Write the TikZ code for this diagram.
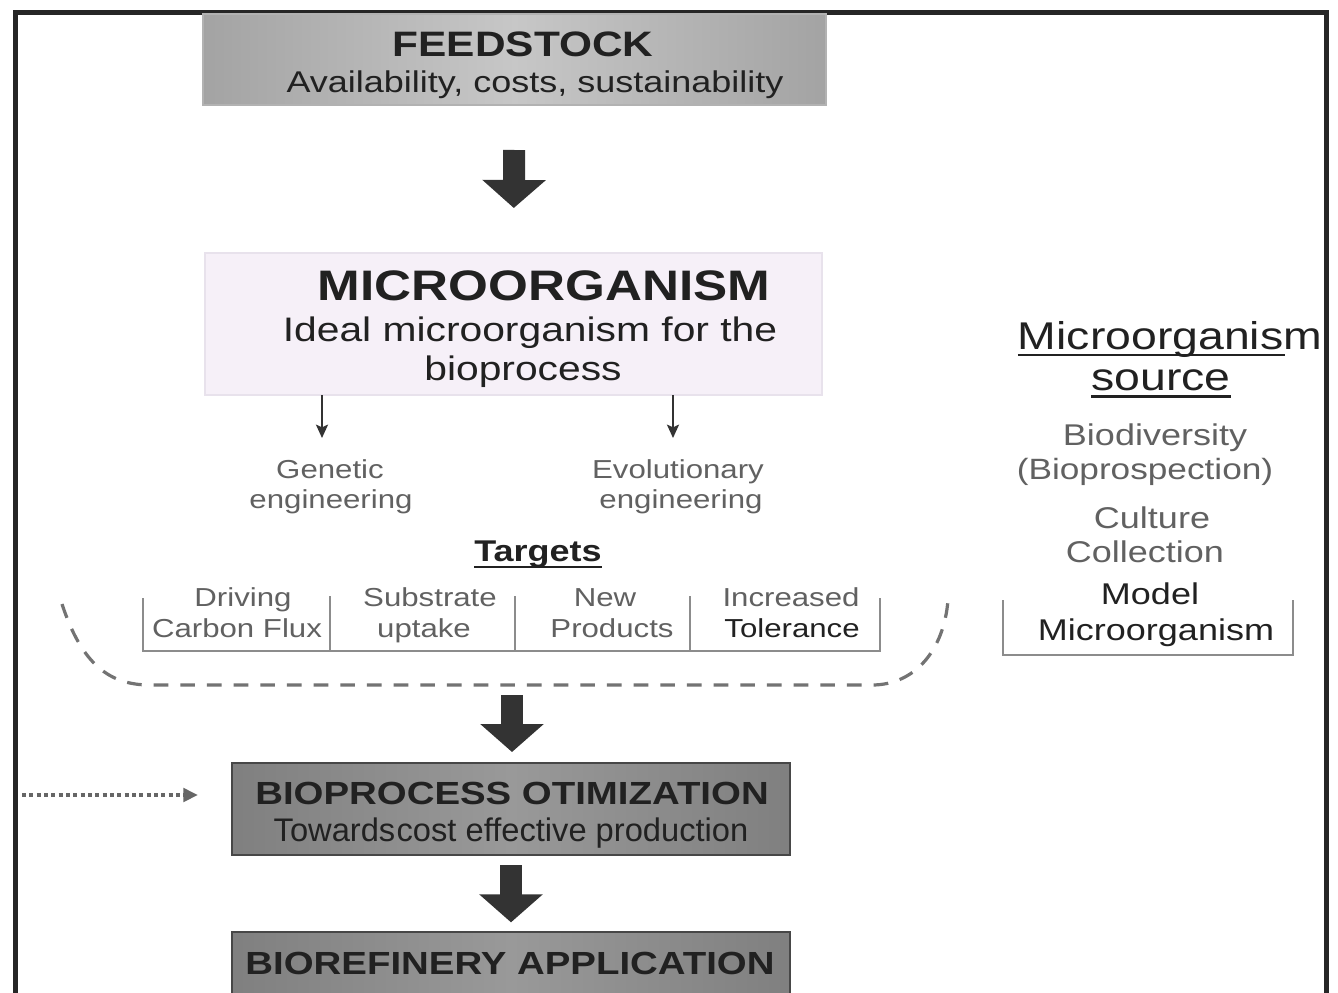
\documentclass[tikz,border=0pt]{standalone}
\usepackage{fontspec}
\setmainfont{Liberation Sans}
\newfontfamily\hv[FakeStretch=1.2]{Liberation Sans}
\newfontfamily\hvn{Liberation Sans}
\usetikzlibrary{arrows.meta,calc}
\definecolor{ink}{gray}{0.13}
\definecolor{light}{gray}{0.38}
\definecolor{lav}{RGB}{246,240,248}
\definecolor{lavline}{RGB}{232,226,236}
\newcommand{\fs}[1]{\fontsize{#1}{#1}\selectfont}
\begin{document}
\begin{tikzpicture}[x=0.75pt,y=-0.75pt,
  every node/.style={inner sep=0pt, outer sep=0pt},
  txt/.style={anchor=base, font=\hv, text=ink},
  lt/.style={anchor=base, font=\hv, text=light},
  feedbox/.style={rectangle, draw=black!30, line width=1pt, left color=black!36, right color=black!36, middle color=black!22},
  procbox/.style={rectangle, draw=black!72, line width=1.6pt, left color=black!50, right color=black!50, middle color=black!40},
  microbox/.style={rectangle, draw=lavline, line width=1pt, fill=lav},
  bigarrow/.style={line width=16.5pt, draw=black!80, -{Triangle[width=46.5pt,length=21pt]}},
  smallarr/.style={line width=1.6pt, draw=black!80, -{Stealth[length=10pt,width=9pt,inset=2pt]}},
  brk/.style={line width=1.6pt, draw=black!45},
  dashcurve/.style={line width=2.4pt, draw=black!55, dash pattern=on 11pt off 9pt},
  dotarr/.style={line width=3pt, draw=black!60, dash pattern=on 3pt off 2.5pt, -{Triangle[length=11pt,width=10pt]}},
  uline/.style={line width=2pt, draw=ink}
]
\useasboundingbox (0,0) rectangle (1338,992);
\clip (0,0) rectangle (1338,992);
\fill[white] (0,0) rectangle (1338,992);
% frame
\draw[line width=3.75pt, draw=black!85] (15,1000) -- (15,12) -- (1326,12) -- (1326,1000);

% boxes
\node[feedbox, minimum width=467.25pt, minimum height=68.25pt] (feed) at (514.5,59.5) {};
\node[microbox, minimum width=462.75pt, minimum height=106.5pt] (micro) at (513.5,324) {};
\node[procbox, minimum width=418.5pt, minimum height=69pt] (bio) at (511,809) {};
\node[procbox, minimum width=418.5pt, minimum height=52pt] (refin) at (511,967) {};

% box texts
\node[txt, font=\hv\bfseries\fs{26.5}] (feedt) at (523,56) {FEEDSTOCK};
\node[txt, font=\hv\fs{22.5}] (feeds) at (535,92) {Availability, costs, sustainability};
\node[txt, font=\hv\bfseries\fs{32}] (microt) at (544,300) {MICROORGANISM};
\node[txt, font=\hv\fs{25.5}] (micros1) at (530,341) {Ideal microorganism for the};
\node[txt, font=\hv\fs{25.5}] (micros2) at (523,380) {bioprocess};
\node[txt, font=\hv\bfseries\fs{24}] (biot) at (512,804) {BIOPROCESS OTIMIZATION};
\node[txt, font=\hvn\fs{24.5}] (bios) at (511,841) {Towards\hspace{1pt}cost effective production};
\node[txt, font=\hv\bfseries\fs{24}] (refint) at (510,974) {BIOREFINERY APPLICATION};

% engineering routes
\coordinate (ga) at (322,438);
\coordinate (ea) at (673,438);
\draw[smallarr] (micro.south -| ga) -- (ga);
\draw[smallarr] (micro.south -| ea) -- (ea);
\node[lt, font=\hv\fs{19.5}] (gen1) at (330,478) {Genetic};
\node[lt, font=\hv\fs{19.5}] (gen2) at (331,508) {engineering};
\node[lt, font=\hv\fs{19.5}] (evo1) at (678,478) {Evolutionary};
\node[lt, font=\hv\fs{19.5}] (evo2) at (681,508) {engineering};

% targets
\node[txt, font=\hv\bfseries\fs{22.5}] (targ) at (538,561) {Targets};
\draw[uline] ($(targ.base west)+(0,-4.5pt)$) -- ($(targ.base east)+(0,-4.5pt)$);
\draw[brk] (143,598) -- (143,651) -- (880,651) -- (880,598);
\draw[brk] (330,596) -- (330,651);
\draw[brk] (515,596) -- (515,651);
\draw[brk] (690,596) -- (690,651);
\node[lt, font=\hv\fs{19.5}] (t1a) at (243,606) {Driving};
\node[lt, font=\hv\fs{19.5}] (t1b) at (237,637) {Carbon Flux};
\node[lt, font=\hv\fs{19.5}] (t2a) at (430,606) {Substrate};
\node[lt, font=\hv\fs{19.5}] (t2b) at (424,637) {uptake};
\node[lt, font=\hv\fs{19.5}] (t3a) at (605,606) {New};
\node[lt, font=\hv\fs{19.5}] (t3b) at (612,637) {Products};
\node[lt, font=\hv\fs{19.5}] (t4a) at (791,606) {Increased};
\node[txt, font=\hv\fs{19.5}] (t4b) at (792,637) {Tolerance};

% dashed enclosure
\draw[dashcurve] (62,604) .. controls (82,665) and (110,685) .. (150,685) -- (872,685) .. controls (915,685) and (944,650) .. (948,600);
\coordinate (dashbot) at (512,685);

% source column
\node[txt, font=\hv\fs{29}] (src1) at (1170,349) {Microorganism};
\draw[uline] ($(src1.base west)+(0,-4.5pt)$) -- ($(src1.base east)+(-28pt,-4.5pt)$);
\node[txt, font=\hv\fs{29}] (src2) at (1161,390) {source};
\draw[uline] ($(src2.base west)+(0,-5pt)$) -- ($(src2.base east)+(0,-5pt)$);
\node[lt, font=\hv\fs{22.5}] (s1) at (1155,445) {Biodiversity};
\node[lt, font=\hv\fs{22}] (s2) at (1145,479) {(Bioprospection)};
\node[lt, font=\hv\fs{22.5}] (s3) at (1152,528) {Culture};
\node[lt, font=\hv\fs{22.5}] (s4) at (1145,562) {Collection};
\node[txt, font=\hv\fs{22.5}] (s5) at (1150,604) {Model};
\node[txt, font=\hv\fs{22.5}] (s6) at (1156,640) {Microorganism};
\draw[brk] (1003,600) -- (1003,655) -- (1293,655) -- (1293,600);

% main flow arrows
\draw[bigarrow, shorten <=33.75pt, shorten >=33.75pt] (feed.south) -- (micro.north);
\draw[bigarrow, shorten <=7.5pt, shorten >=8.25pt] (dashbot) -- (dashbot |- bio.north);
\draw[bigarrow, shorten <=7.5pt, shorten >=7.5pt] (bio.south) -- (refin.north);

% dotted input
\coordinate (dl) at (22,795);
\draw[dotarr, shorten >=25.5pt] (dl) -- (dl -| bio.west);
\end{tikzpicture}
\end{document}
